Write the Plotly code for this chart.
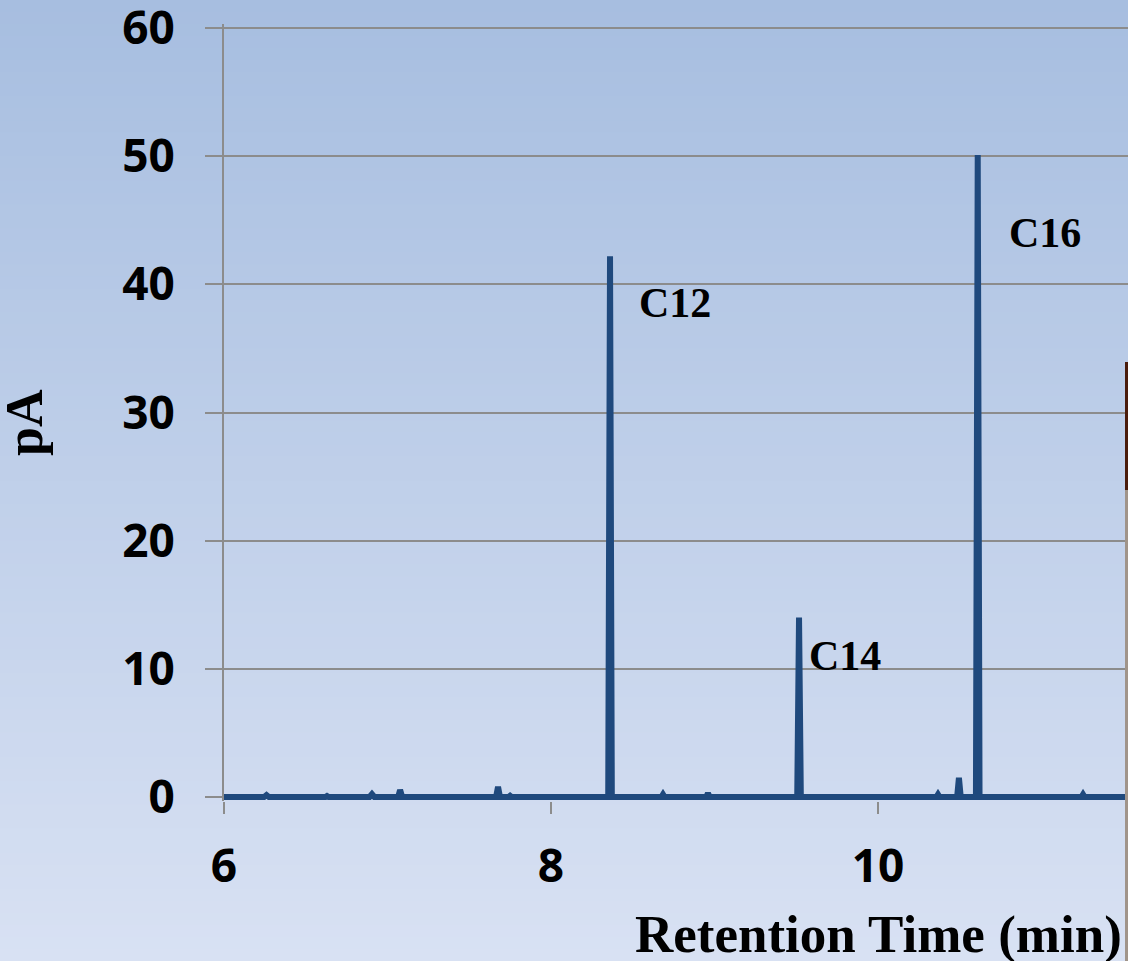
import plotly.graph_objects as go

# Chromatogram trace (retention time in min, signal in pA)
retention_time = [6.00, 6.245, 6.26, 6.275, 6.62, 6.63, 6.64, 6.89, 6.905, 6.92,
                  7.065, 7.077, 7.09, 7.664, 7.676, 7.688, 7.74, 7.75, 7.76,
                  8.350, 8.361, 8.372, 8.675, 8.685, 8.695, 8.95, 8.96, 8.97,
                  9.506, 9.517, 9.528, 10.357, 10.367, 10.377, 10.484, 10.495, 10.506,
                  10.599, 10.610, 10.621, 11.244, 11.254, 11.264, 11.60]
signal_pA = [0.0, 0.0, 0.15, 0.0, 0.0, 0.08, 0.0, 0.0, 0.22, 0.0,
             0.0, 0.55, 0.0, 0.0, 0.8, 0.0, 0.0, 0.1, 0.0,
             0.0, 42.2, 0.0, 0.0, 0.2, 0.0, 0.0, 0.3, 0.0,
             0.0, 14.0, 0.0, 0.0, 0.2, 0.0, 0.0, 1.5, 0.0,
             0.0, 50.1, 0.0, 0.0, 0.2, 0.0, 0.0]

peak_labels = ["C12", "C14", "C16"]
y_ticks = [0, 10, 20, 30, 40, 50, 60]
x_ticks = [6, 8, 10]

W, H = 1128, 961
L, R, T, B = 224, 0, 24, 160
pw, ph = W - L - R, H - T - B
PX_PER_Y = 769 / 60.0  # 0 at 797 px, 60 at 28 px
PX_PER_X = 163.5


def xp(px):
    return (px - L) / pw


def yp(py):
    return (H - B - py) / ph


fig = go.Figure()
fig.add_trace(go.Scatter(x=retention_time, y=signal_pA, mode="lines",
                         line=dict(color="#1F497D", width=6), hoverinfo="skip",
                         showlegend=False))

# gradient background as stacked bands
top = (167, 190, 224)
bot = (216, 225, 243)
n = 80
shapes = []
for i in range(n):
    f = i / (n - 1)
    c = tuple(round(top[k] + (bot[k] - top[k]) * f) for k in range(3))
    y0 = 1 + T / ph - (i / n) * (H / ph)
    y1 = 1 + T / ph - ((i + 1) / n) * (H / ph)
    shapes.append(dict(type="rect", xref="paper", yref="paper",
                       x0=xp(0), x1=1.0, y0=y1 - 0.002, y1=y0,
                       fillcolor="rgb(%d,%d,%d)" % c, line=dict(width=0), layer="below"))
# edge artifact at right border
shapes.append(dict(type="rect", xref="paper", yref="paper", x0=xp(1125), x1=1.0,
                   y0=yp(490), y1=yp(362), fillcolor="#4A1C0C", line=dict(width=0), layer="above"))
shapes.append(dict(type="rect", xref="paper", yref="paper", x0=xp(1125), x1=1.0,
                   y0=yp(961), y1=yp(490), fillcolor="#A0948A", line=dict(width=0), layer="above"))

label_font = dict(family="Liberation Serif", size=42, color="black", weight="bold")


def label(text, px, py):
    return dict(text=text, x=xp(px), y=yp(py), xref="paper", yref="paper",
                xanchor="center", yanchor="middle", showarrow=False, font=label_font)


annotations = [
    label(peak_labels[0], 675, 303),
    label(peak_labels[1], 845, 656),
    label(peak_labels[2], 1045, 233),
    dict(text="Retention Time (min)", x=xp(1124), y=yp(934), xref="paper", yref="paper",
         xanchor="right", yanchor="middle", showarrow=False,
         font=dict(family="Liberation Serif", size=53, color="black", weight="bold")),
    dict(text="pA", x=xp(24), y=yp(423), xref="paper", yref="paper", textangle=-90,
         xanchor="center", yanchor="middle", showarrow=False,
         font=dict(family="Liberation Serif", size=52, color="black", weight="bold")),
]

pad_y = 4 / PX_PER_Y
tick_font = dict(family="Open Sans", size=46, color="black", weight="bold")
fig.update_layout(
    width=W, height=H,
    margin=dict(l=L, r=R, t=T, b=B, autoexpand=False),
    paper_bgcolor="#C0CFEA", plot_bgcolor="rgba(0,0,0,0)",
    shapes=shapes, annotations=annotations,
    xaxis=dict(range=[6, 6 + pw / PX_PER_X], tickvals=x_ticks, ticktext=[str(v) for v in x_ticks],
               showgrid=False, zeroline=False, showline=False,
               ticks="outside", ticklen=12, tickwidth=2, tickcolor="#8C8C8C",
               tickfont=tick_font, ticklabelstandoff=13, ticklabeloverflow="allow"),
    yaxis=dict(range=[-pad_y, 60 + pad_y], tickvals=y_ticks, showgrid=True,
               gridcolor="#8C8C8C", gridwidth=2,
               zeroline=False, showline=True, linecolor="#8C8C8C", linewidth=2,
               ticks="outside", ticklen=17, tickwidth=2, tickcolor="#8C8C8C",
               tickfont=tick_font, ticklabelstandoff=21, ticklabeloverflow="allow"),
)

fig.write_html("out.html", post_script="document.body.style.margin='0';",
               config={"displayModeBar": False})
